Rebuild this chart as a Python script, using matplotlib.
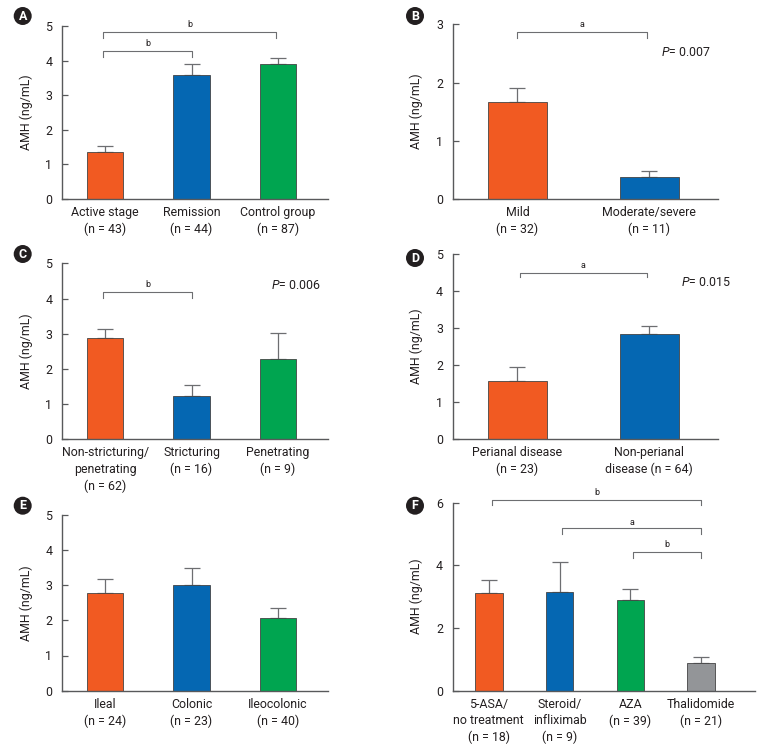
import numpy as np
import matplotlib
matplotlib.use('Agg')
import matplotlib.pyplot as plt

plt.rcParams['font.family'] = ['Roboto', 'DejaVu Sans']
plt.rcParams['mathtext.fontset'] = 'custom'
plt.rcParams['mathtext.it'] = 'Roboto:italic'
plt.rcParams['mathtext.rm'] = 'Roboto'

# ---- data ----
a_labels = ['Active stage\n(n = 43)', 'Remission\n(n = 44)', 'Control group\n(n = 87)']
a_vals = [1.36, 3.58, 3.90]
a_err = [0.17, 0.31, 0.17]

b_labels = ['Mild\n(n = 32)', 'Moderate/severe\n(n = 11)']
b_vals = [1.67, 0.37]
b_err = [0.23, 0.11]

c_labels = ['Non-stricturing/\npenetrating\n(n = 62)', 'Stricturing\n(n = 16)', 'Penetrating\n(n = 9)']
c_vals = [2.87, 1.22, 2.28]
c_err = [0.25, 0.31, 0.73]

d_labels = ['Perianal disease\n(n = 23)', 'Non-perianal\ndisease (n = 64)']
d_vals = [1.57, 2.83]
d_err = [0.37, 0.22]

e_labels = ['Ileal\n(n = 24)', 'Colonic\n(n = 23)', 'Ileocolonic\n(n = 40)']
e_vals = [2.77, 3.01, 2.06]
e_err = [0.39, 0.47, 0.28]

f_labels = ['5-ASA/\nno treatment\n(n = 18)', 'Steroid/\ninfliximab\n(n = 9)', 'AZA\n(n = 39)', 'Thalidomide\n(n = 21)']
f_vals = [3.11, 3.14, 2.89, 0.87]
f_err = [0.41, 0.96, 0.34, 0.20]

ORANGE = '#F15A22'
BLUE = '#0567B2'
GREEN = '#00A550'
GREY = '#939598'
AX = '#58595B'
FS = 8.9

W, H = 767, 749
fig = plt.figure(figsize=(W / 100, H / 100), dpi=100)


def make_ax(left, right, y0, ytop):
    return fig.add_axes([left / W, (H - y0) / H, (right - left) / W, (y0 - ytop) / H])


def panel(ax, labels, vals, errs, colors, width, xlim, ylim, yticks, letter, lx, ly):
    x = np.arange(len(vals))
    ax.bar(x, vals, width=width, color=colors, edgecolor='#444444', linewidth=0.6, zorder=2)
    ax.errorbar(x, vals, yerr=[np.zeros(len(errs)), errs], fmt='none', ecolor='#6d6e71',
                elinewidth=0.9, capsize=5.5, capthick=0.9, zorder=1)
    ax.set_xlim(*xlim)
    ax.set_ylim(*ylim)
    ax.set_yticks(yticks)
    ax.set_xticks(x)
    ax.set_xticklabels(labels, fontsize=FS, color='#231F20', linespacing=1.35)
    ax.tick_params(axis='x', length=0, pad=5)
    ax.tick_params(axis='y', direction='in', length=4, width=0.9, color=AX, labelsize=FS,
                   labelcolor='#231F20', pad=7)
    for s in ['top', 'right']:
        ax.spines[s].set_visible(False)
    for s in ['left', 'bottom']:
        ax.spines[s].set_color(AX)
        ax.spines[s].set_linewidth(1.0)
    ax.set_ylabel('AMH (ng/mL)', fontsize=FS, color='#231F20', labelpad=9)
    fig.text(lx / W, 1 - ly / H, letter, fontsize=9, fontweight='bold', color='white',
             ha='center', va='center',
             bbox=dict(boxstyle='circle,pad=0.2', fc='#231F20', ec='none'))


def bracket(ax, x1, x2, y, h, label, ty):
    ax.plot([x1, x1, x2, x2], [y - h, y, y, y - h], color='#6d6e71', lw=0.8, clip_on=False)
    ax.text((x1 + x2) / 2, ty, label, ha='center', va='center', fontsize=6.5,
            color='#231F20', clip_on=False)


# A
axA = make_ax(62, 328, 199, 26)
panel(axA, a_labels, a_vals, a_err, [ORANGE, BLUE, GREEN], 0.42, (-0.5, 2.58), (0, 5),
      range(6), 'A', 22.7, 16)
bracket(axA, -0.02, 1.0, 4.28, 0.18, 'b', 4.48)
bracket(axA, -0.02, 1.98, 4.84, 0.18, 'b', 5.03)

# B
axB = make_ax(452.7, 718, 199, 24.3)
panel(axB, b_labels, b_vals, b_err, [ORANGE, BLUE], 0.45, (-0.49, 1.52), (0, 3),
      range(4), 'B', 415, 16)
bracket(axB, 0.0, 0.98, 2.87, 0.1, 'a', 3.0)
axB.text(1.47, 2.52, r'$P$= 0.007', ha='right', va='center', fontsize=FS, color='#231F20')

# C
axC = make_ax(62, 328, 439.3, 263.3)
panel(axC, c_labels, c_vals, c_err, [ORANGE, BLUE, GREEN], 0.42, (-0.5, 2.58), (0, 5),
      range(6), 'C', 22.7, 254)
bracket(axC, -0.02, 1.0, 4.19, 0.17, 'b', 4.4)
axC.text(2.5, 4.38, r'$P$= 0.006', ha='right', va='center', fontsize=FS, color='#231F20')

# D
axD = make_ax(452.7, 718, 439.3, 254)
panel(axD, d_labels, d_vals, d_err, [ORANGE, BLUE], 0.45, (-0.49, 1.52), (0, 5),
      range(6), 'D', 415, 258)
bracket(axD, 0.02, 0.98, 4.5, 0.13, 'a', 4.7)
axD.text(1.62, 4.22, r'$P$= 0.015', ha='right', va='center', fontsize=FS, color='#231F20')

# E
axE = make_ax(62, 328, 690.7, 514.7)
panel(axE, e_labels, e_vals, e_err, [ORANGE, BLUE, GREEN], 0.42, (-0.5, 2.58), (0, 5),
      range(6), 'E', 22.7, 505.7)

# F
axF = make_ax(452.7, 755, 690.7, 502.6)
panel(axF, f_labels, f_vals, f_err, [ORANGE, BLUE, GREEN, GREY], 0.39, (-0.51, 3.76), (0, 6),
      [0, 2, 4, 6], 'F', 415, 505.7)
bracket(axF, 0.04, 3.0, 6.08, 0.16, 'b', 6.31)
bracket(axF, 1.04, 3.0, 5.18, 0.17, 'a', 5.37)
bracket(axF, 2.03, 3.0, 4.41, 0.17, 'b', 4.65)

fig.savefig('out.png', dpi=100)
